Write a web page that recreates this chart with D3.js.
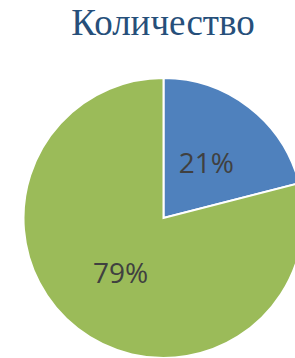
<!DOCTYPE html>
<html>
<head>
<meta charset="utf-8">
<script src="https://cdnjs.cloudflare.com/ajax/libs/d3/7.8.5/d3.min.js"></script>
<style>
  body { margin: 0; background: #fff; overflow: hidden; }
</style>
</head>
<body>
<div id="chart"></div>
<script>
// data
var title = "Количество";
var categories = ["A", "B"];
var values = [21, 79];
var colors = ["#4f81bd", "#9bbb59"];

var width = 295;
var height = 358;
var cx = 163.5;
var cy = 218;
var radius = 140;

var svg = d3.select("#chart")
  .append("svg")
  .attr("width", width)
  .attr("height", height)

svg.append("text")
  .attr("x", 163)
  .attr("y", 35)
  .attr("text-anchor", "middle")
  .attr("font-family", "Liberation Serif, Times New Roman, serif")
  .attr("font-size", 37)
  .attr("fill", "#264f7a")
  .text(title)

var total = d3.sum(values);
var pie = d3.pie().sort(null).value(d => d)
var arcs = pie(values)

var arc = d3.arc().innerRadius(0).outerRadius(radius)
var labelArc = d3.arc().innerRadius(radius * 0.5).outerRadius(radius * 0.5)

var g = svg.append("g")
  .attr("transform", "translate(" + cx + "," + cy + ")")

g.selectAll("path")
  .data(arcs)
  .enter()
  .append("path")
  .attr("d", arc)
  .attr("fill", (d, i) => colors[i])
  .attr("stroke", "#fff")
  .attr("stroke-width", 2)
  .attr("stroke-linejoin", "miter")

g.selectAll("text.label")
  .data(arcs)
  .enter()
  .append("text")
  .attr("class", "label")
  .attr("transform", d => "translate(" + labelArc.centroid(d) + ")")
  .attr("text-anchor", "middle")
  .attr("dy", "0.36em")
  .attr("font-family", "Open Sans, sans-serif")
  .attr("font-size", 28)
  .attr("fill", "#404040")
  .text(d => Math.round(d.value / total * 100) + "%")
</script>
</body>
</html>
